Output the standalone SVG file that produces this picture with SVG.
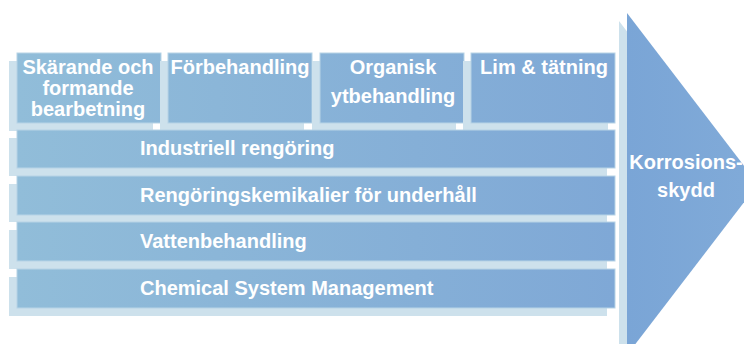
<svg xmlns="http://www.w3.org/2000/svg" width="744" height="344" viewBox="0 0 744 344">
<defs>
<linearGradient id="g" gradientUnits="userSpaceOnUse" x1="17" y1="0" x2="615" y2="0">
<stop offset="0" stop-color="#91bdd9"/>
<stop offset="1" stop-color="#7fa8d6"/>
</linearGradient>
<linearGradient id="ga" gradientUnits="userSpaceOnUse" x1="627" y1="0" x2="744" y2="0">
<stop offset="0" stop-color="#7aa5d6"/>
<stop offset="1" stop-color="#80aad8"/>
</linearGradient>
</defs>
<style>
.sh{fill:#cde1ec}
.bx{fill:url(#g);stroke:#b7d4e6;stroke-width:1}
.t{font-family:"Liberation Sans",Arial,sans-serif;font-weight:bold;font-size:20px;fill:#ffffff}
.m{text-anchor:middle}
</style>
<rect width="744" height="344" fill="#ffffff"/>
<g id="arrow">
<polygon class="sh" points="619,21 750,192 619,363"/>
<polygon points="627,13 758,184 627,355" fill="url(#ga)"/>
<text class="t m" x="686" y="169">Korrosions-</text>
<text class="t m" x="686" y="197">skydd</text>
</g>
<g id="n1">
<rect class="sh" x="9" y="61" width="144" height="70"/>
<rect class="bx" x="17" y="53" width="144" height="70"/>
<text class="t m" x="88" y="74">Skärande och</text>
<text class="t m" x="88" y="95">formande</text>
<text class="t m" x="88" y="116">bearbetning</text>
</g>
<g id="n2">
<rect class="sh" x="160" y="61" width="144" height="70"/>
<rect class="bx" x="168" y="53" width="144" height="70"/>
<text class="t m" x="240" y="74">Förbehandling</text>
</g>
<g id="n3">
<rect class="sh" x="312" y="61" width="144" height="70"/>
<rect class="bx" x="320" y="53" width="144" height="70"/>
<text class="t m" x="393" y="74">Organisk</text>
<text class="t m" x="393" y="103">ytbehandling</text>
</g>
<g id="n4">
<rect class="sh" x="463" y="61" width="145" height="70"/>
<rect class="bx" x="471" y="53" width="144" height="70"/>
<text class="t m" x="544" y="74">Lim &amp; tätning</text>
</g>
<g id="n5">
<rect class="sh" x="9" y="138" width="598" height="38"/>
<rect class="bx" x="17" y="130" width="598" height="38"/>
<text class="t" x="140" y="155">Industriell rengöring</text>
</g>
<g id="n6">
<rect class="sh" x="9" y="184" width="598" height="38"/>
<rect class="bx" x="17" y="176" width="598" height="39"/>
<text class="t" x="140" y="202">Rengöringskemikalier för underhåll</text>
</g>
<g id="n7">
<rect class="sh" x="9" y="230" width="598" height="39"/>
<rect class="bx" x="17" y="222" width="598" height="39"/>
<text class="t" x="140" y="248">Vattenbehandling</text>
</g>
<g id="n8">
<rect class="sh" x="9" y="277" width="598" height="39"/>
<rect class="bx" x="17" y="269" width="598" height="39"/>
<text class="t" x="140" y="295">Chemical System Management</text>
</g>
<g id="connectors"></g>
</svg>
